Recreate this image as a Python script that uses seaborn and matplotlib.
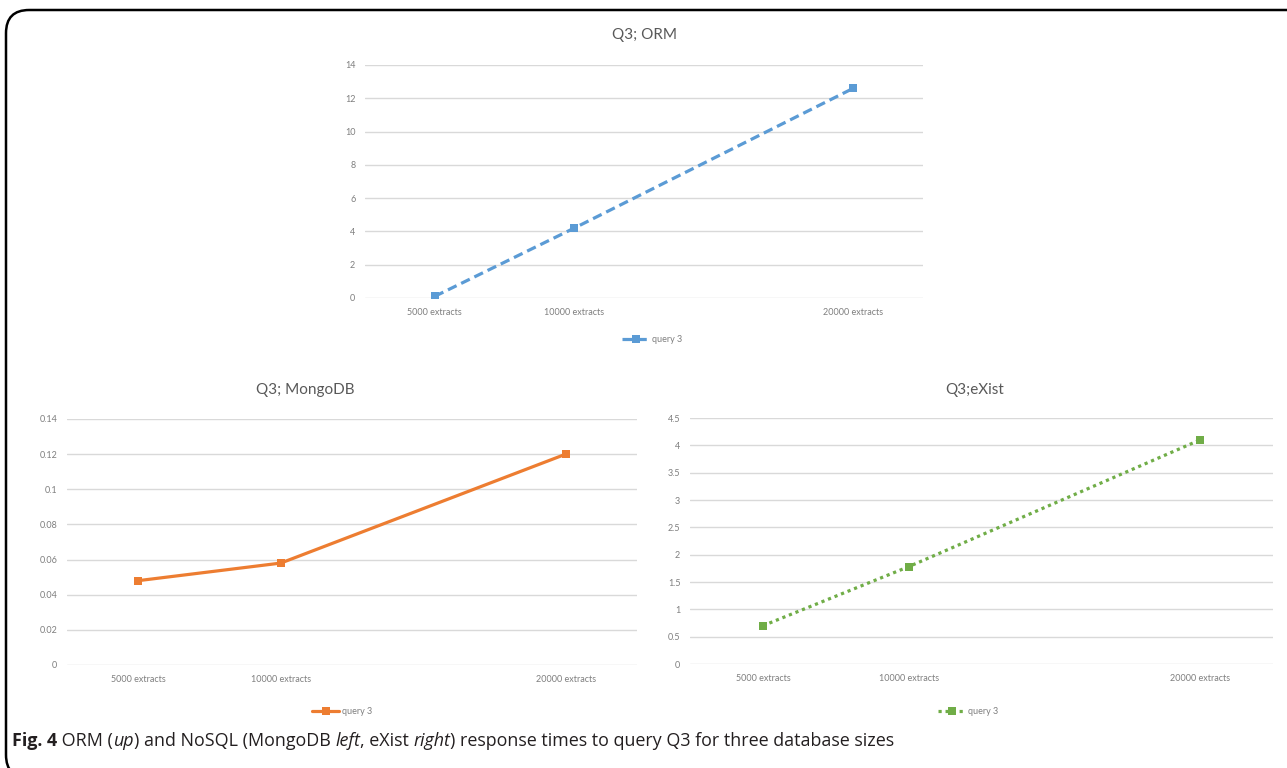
import seaborn as sns
import matplotlib.pyplot as plt
from matplotlib.patches import FancyBboxPatch

sizes = [5000, 10000, 20000]
size_labels = ['5000 extracts', '10000 extracts', '20000 extracts']
orm_times = [0.1, 4.2, 12.6]
mongo_times = [0.048, 0.058, 0.12]
exist_times = [0.7, 1.78, 4.1]

orm_ticks = [0, 2, 4, 6, 8, 10, 12, 14]
orm_tick_labels = ['0', '2', '4', '6', '8', '10', '12', '14']
mongo_ticks = [0, 0.02, 0.04, 0.06, 0.08, 0.1, 0.12, 0.14]
mongo_tick_labels = ['0', '0.02', '0.04', '0.06', '0.08', '0.1', '0.12', '0.14']
exist_ticks = [0, 0.5, 1, 1.5, 2, 2.5, 3, 3.5, 4, 4.5]
exist_tick_labels = ['0', '0.5', '1', '1.5', '2', '2.5', '3', '3.5', '4', '4.5']

sns.set_style('white')
plt.rcParams['font.family'] = ['Lato', 'DejaVu Sans']

W, H = 1287, 768
fig = plt.figure(figsize=(W / 100, H / 100), dpi=100)


def px_axes(x0, y0, x1, y1):
    return fig.add_axes([x0 / W, 1 - y1 / H, (x1 - x0) / W, (y1 - y0) / H])


def panel(ax, values, ticks, tick_labels, color, style, title, title_xy, legend_xy):
    sns.lineplot(x=sizes, y=values, ax=ax, color=color, linestyle=style, linewidth=2.3,
                 marker='s', markersize=5.5, markeredgewidth=0, label='query 3')
    ax.set_xlim(2500, 22500)
    ax.set_ylim(ticks[0], ticks[-1])
    ax.set_xticks(sizes)
    ax.set_xticklabels(size_labels)
    ax.set_yticks(ticks)
    ax.set_yticklabels(tick_labels)
    ax.tick_params(length=0, labelsize=6.5, labelcolor='#7f7f7f', pad=7)
    ax.grid(axis='y', color='#d9d9d9', linewidth=1)
    ax.set_axisbelow(True)
    for s in ax.spines.values():
        s.set_visible(False)
    fig.text(title_xy[0] / W, 1 - title_xy[1] / H, title, ha='center', va='center',
             fontsize=11, color='#595959')
    ax.legend(loc='center', bbox_to_anchor=(legend_xy[0] / W, 1 - legend_xy[1] / H),
              bbox_transform=fig.transFigure, frameon=False, fontsize=6.5,
              labelcolor='#7f7f7f', handlelength=3.0, handletextpad=0.3)


ax_orm = px_axes(365, 65, 923, 298)
panel(ax_orm, orm_times, orm_ticks, orm_tick_labels, '#5b9bd5', (0, (3, 1.6)),
      'Q3; ORM', (645, 35), (652, 340))

ax_mongo = px_axes(67, 419, 637, 665)
panel(ax_mongo, mongo_times, mongo_ticks, mongo_tick_labels, '#ed7d31', '-',
      'Q3; MongoDB', (305, 390), (342, 712))

ax_exist = px_axes(690, 418, 1273, 664)
panel(ax_exist, exist_times, exist_ticks, exist_tick_labels, '#70ad47', (0, (1, 1.2)),
      'Q3;eXist', (975, 390), (968, 712))

# frame
frame = FancyBboxPatch((6 / W, -10 / H), 1400 / W, (758 + 10) / H,
                       boxstyle='round,pad=0,rounding_size=0.018',
                       transform=fig.transFigure, fill=False, edgecolor='black',
                       linewidth=1.8, mutation_aspect=W / H)
fig.patches.append(frame)

# caption with mixed styles
pieces = [('Fig. 4', 'bold', 'normal'), (' ORM (', 'normal', 'normal'),
          ('up', 'normal', 'italic'), (') and NoSQL (MongoDB ', 'normal', 'normal'),
          ('left', 'normal', 'italic'), (', eXist ', 'normal', 'normal'),
          ('right', 'normal', 'italic'),
          (') response times to query Q3 for three database sizes', 'normal', 'normal')]
renderer = fig.canvas.get_renderer()
x = 12
for txt, weight, style in pieces:
    t = fig.text(x / W, 1 - 741 / H, txt, fontsize=12.9, fontweight=weight, fontstyle=style,
                 color='#231f20', va='center', ha='left',
                 family=['Open Sans', 'DejaVu Sans'])
    bb = t.get_window_extent(renderer)
    x += bb.width

fig.savefig('out.png', dpi=100)
